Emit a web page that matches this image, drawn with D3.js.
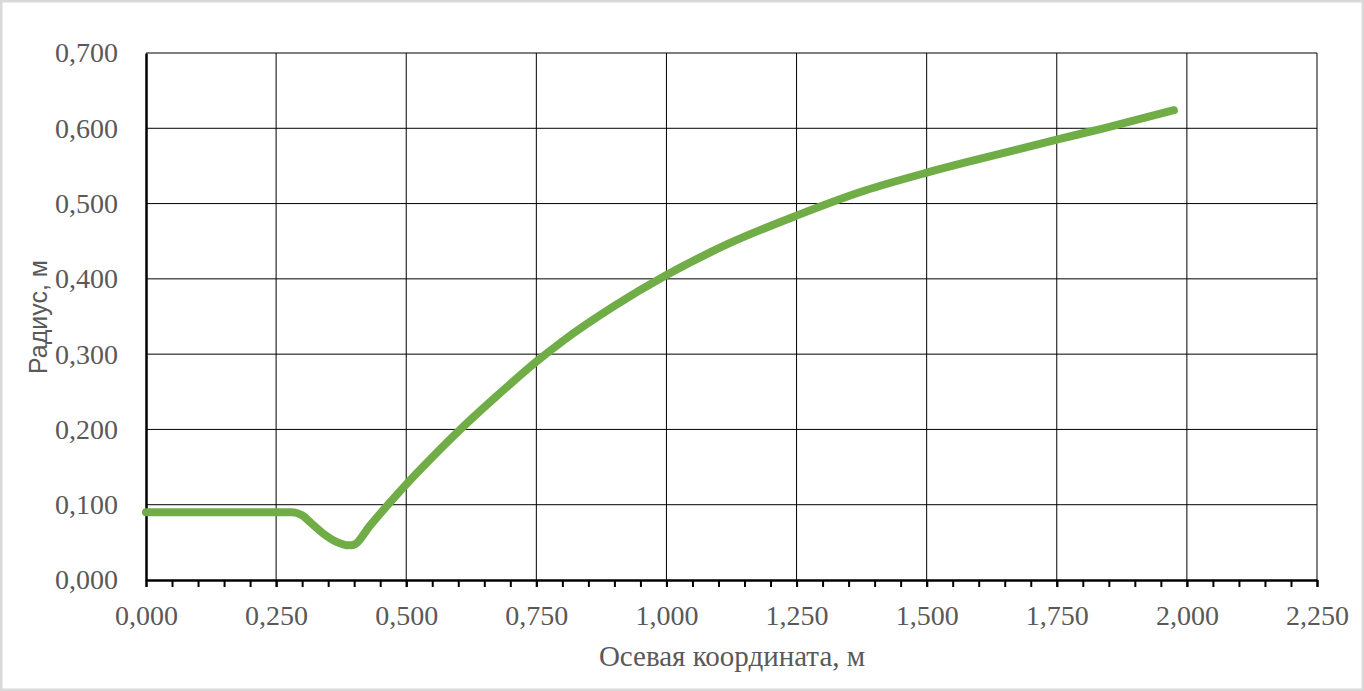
<!DOCTYPE html>
<html>
<head>
<meta charset="utf-8">
<script src="https://cdn.jsdelivr.net/npm/d3@7"></script>
<style>
  html, body { margin: 0; padding: 0; background: #fff; }
  svg { display: block; }
</style>
</head>
<body>
<svg id="chart" width="1364" height="691"></svg>
<script>
// Data
const axialX = [0, 0.05, 0.10, 0.15, 0.20, 0.25, 0.28, 0.30, 0.315, 0.34, 0.365, 0.39, 0.40, 0.43, 0.465, 0.50, 0.55, 0.604, 0.675, 0.75, 0.80, 0.90, 1.00, 1.117, 1.25, 1.38, 1.50, 1.60, 1.75, 1.84, 1.975];
const radiusY = [0.090, 0.090, 0.090, 0.090, 0.090, 0.090, 0.090, 0.086, 0.077, 0.062, 0.051, 0.046, 0.047, 0.072, 0.100, 0.127, 0.163, 0.200, 0.245, 0.290, 0.317, 0.364, 0.405, 0.446, 0.484, 0.517, 0.541, 0.559, 0.585, 0.600, 0.624];
const xTickValues = [0, 0.25, 0.5, 0.75, 1.0, 1.25, 1.5, 1.75, 2.0, 2.25];
const yTickValues = [0, 0.1, 0.2, 0.3, 0.4, 0.5, 0.6, 0.7];
const xTitle = "Осевая координата, м";
const yTitle = "Радиус, м";

const fmt = v => d3.format(".3f")(v).replace(".", ",");

const svg = d3.select("#chart");
const W = 1364, H = 691;
const m = { left: 146, right: W - 1317, top: 53, bottom: H - 580 };
const serif = "'Liberation Serif', 'Times New Roman', serif";

// outer border
svg.append("rect").attr("x", 1).attr("y", 1).attr("width", W - 2).attr("height", H - 2)
  .attr("fill", "#fff").attr("stroke", "#d9d9d9").attr("stroke-width", 3);

const x = d3.scaleLinear().domain([0, 2.25]).range([m.left, W - m.right]);
const y = d3.scaleLinear().domain([0, 0.7]).range([H - m.bottom, m.top]);

// gridlines
const grid = svg.append("g");
grid.selectAll("line.v").data(xTickValues.slice(1)).join("line")
  .attr("x1", d => x(d)).attr("x2", d => x(d))
  .attr("y1", y(0)).attr("y2", y(0.7))
  .attr("stroke", "#000").attr("stroke-width", 1);
grid.selectAll("line.h").data(yTickValues.slice(1)).join("line")
  .attr("x1", x(0)).attr("x2", x(2.25))
  .attr("y1", d => y(d)).attr("y2", d => y(d))
  .attr("stroke", "#000").attr("stroke-width", 1);

// x minor ticks
const minor = d3.range(0, 2.2501, 0.05);
const xMinor = d3.axisBottom(x).tickValues(minor).tickSize(7).tickFormat("");
const gxm = svg.append("g").attr("transform", `translate(0,${y(0)})`).call(xMinor);
gxm.select(".domain").remove();
gxm.selectAll(".tick line").attr("stroke", "#000").attr("stroke-width", 2);

// x axis
const xAxis = d3.axisBottom(x).tickValues(xTickValues).tickSize(7).tickFormat(fmt).tickSizeOuter(0);
const gx = svg.append("g").attr("transform", `translate(0,${y(0)})`).call(xAxis);
gx.select(".domain").attr("stroke", "#000").attr("stroke-width", 2.5);
gx.selectAll(".tick line").attr("stroke", "#000").attr("stroke-width", 2);
gx.selectAll(".tick text")
  .attr("font-family", serif)
  .attr("font-size", 28).attr("fill", "#595959").attr("dy", 0).attr("y", 45);

// y axis
const yAxis = d3.axisLeft(y).tickValues(yTickValues).tickSize(0).tickPadding(28).tickFormat(fmt);
const gy = svg.append("g").attr("transform", `translate(${x(0)},0)`).call(yAxis);
gy.select(".domain").attr("stroke", "#000").attr("stroke-width", 2.5);
gy.selectAll(".tick text")
  .attr("font-family", serif)
  .attr("font-size", 28).attr("fill", "#595959");

// line
const pts = axialX.map((d, i) => [d, radiusY[i]]);
const line = d3.line().x(d => x(d[0])).y(d => y(d[1])).curve(d3.curveMonotoneX);
svg.append("path").datum(pts).attr("d", line)
  .attr("fill", "none").attr("stroke", "#70AD47").attr("stroke-width", 8)
  .attr("stroke-linecap", "round").attr("stroke-linejoin", "round");

// titles
svg.append("text").attr("x", 732).attr("y", 666).attr("text-anchor", "middle")
  .attr("font-family", serif)
  .attr("font-size", 29).attr("fill", "#595959").text(xTitle);
svg.append("text").attr("transform", "translate(47,317) rotate(-90)").attr("text-anchor", "middle")
  .attr("font-family", "'Liberation Sans', Arial, sans-serif")
  .attr("font-size", 25).attr("fill", "#595959").text(yTitle);
</script>
</body>
</html>
